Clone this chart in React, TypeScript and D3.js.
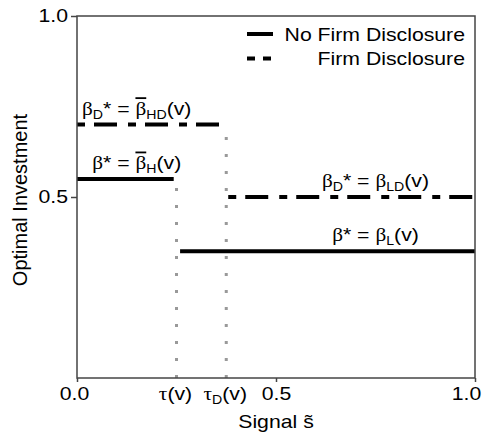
import React, { useEffect, useRef } from 'react'
import * as d3 from 'd3'

/* data */
const xTicks = [0, 0.5, 1]
const yTicks = [0.5, 1]
const noDisclosure = [
  { x0: 0, x1: 0.243, y: 0.55 },
  { x0: 0.259, x1: 1, y: 0.35 },
]
const disclosure = [
  { x0: 0, x1: 0.363, y: 0.7 },
  { x0: 0.38, x1: 1, y: 0.5 },
]
const thresholds = [
  { name: 'τ', sub: '', x: 0.25, top: 0.55 },
  { name: 'τ', sub: 'D', x: 0.375, top: 0.7 },
]
const segLabels = [
  { x: 0.15, y: 0.7, lhsSub: 'D', rhsSub: 'HD', bar: true },
  { x: 0.15, y: 0.55, lhsSub: '', rhsSub: 'H', bar: true },
  { x: 0.75, y: 0.5, lhsSub: 'D', rhsSub: 'LD', bar: false },
  { x: 0.75, y: 0.35, lhsSub: '', rhsSub: 'L', bar: false },
]
const legendItems = ['No Firm Disclosure', 'Firm Disclosure']

const W = 482
const H = 433
const m = { left: 77, right: 7, top: 16, bottom: 55 }
const sx = 1.18 // the original is a little wider than tall
const sans = 'Liberation Sans, Arial, sans-serif'
const serif = 'Liberation Serif, Times New Roman, serif'
const dashDot = '23,11,8,9'

export default function App() {
  const xAxisRef = useRef<SVGGElement>(null)
  const yAxisRef = useRef<SVGGElement>(null)

  const x = d3.scaleLinear().domain([0, 1]).range([m.left, W - m.right])
  const y = d3.scaleLinear().domain([0, 1]).range([H - m.bottom, m.top])

  useEffect(() => {
    const xa = d3.select(xAxisRef.current!)
    xa.call(d3.axisBottom(x).tickValues(xTicks).tickSize(4).tickPadding(5).tickFormat(d3.format('.1f')) as any)
    xa.select('.domain').remove()
    xa.selectAll('line').attr('stroke', '#444').attr('stroke-width', 1.5)
    xa.selectAll('text')
      .attr('font-size', 18)
      .attr('font-family', sans)
      .attr('fill', '#000')
      .attr('transform', (d: any, i: number) => {
        const dx = i === 0 ? -3 : i === xTicks.length - 1 ? -9 : 0
        return `translate(${dx},0) scale(${sx},1)`
      })

    const ya = d3.select(yAxisRef.current!)
    ya.call(d3.axisLeft(y).tickValues(yTicks).tickSize(6).tickPadding(3).tickFormat(d3.format('.1f')) as any)
    ya.select('.domain').remove()
    ya.selectAll('line').attr('stroke', '#444').attr('stroke-width', 1.5)
    ya.selectAll('text')
      .attr('font-size', 18)
      .attr('font-family', sans)
      .attr('fill', '#000')
      .attr('transform', `translate(-9,0) scale(${sx},1) translate(9,0)`)
  }, [])

  return (
    <svg width={W} height={H} style={{ position: 'absolute', left: 0, top: 0 }} fontFamily={sans}>
      <rect x={0} y={0} width={W} height={H} fill="#fff" />

      {/* dotted thresholds */}
      {thresholds.map((t, i) => (
        <line key={'t' + i} x1={x(t.x)} x2={x(t.x)} y1={y(0)} y2={y(t.top)}
          stroke="#999" strokeWidth={3} strokeDasharray="3,14" />
      ))}

      {/* no disclosure: solid */}
      {noDisclosure.map((s, i) => (
        <line key={'n' + i} x1={x(s.x0)} x2={x(s.x1)} y1={y(s.y)} y2={y(s.y)}
          stroke="#000" strokeWidth={4} />
      ))}

      {/* disclosure: dash-dot */}
      {disclosure.map((s, i) => (
        <line key={'d' + i} x1={x(s.x0)} x2={x(s.x1)} y1={y(s.y)} y2={y(s.y)}
          stroke="#000" strokeWidth={4} strokeDasharray={dashDot} strokeDashoffset={34} />
      ))}

      {/* frame */}
      <rect x={x(0)} y={y(1)} width={x(1) - x(0)} height={y(0) - y(1)}
        fill="none" stroke="#444" strokeWidth={1.5} />

      <g ref={xAxisRef} transform={`translate(0,${y(0)})`} />
      <g ref={yAxisRef} transform={`translate(${x(0)},0)`} />

      {/* segment labels */}
      {segLabels.map((l, i) => (
        <g key={'l' + i} transform={`translate(${x(l.x)},${y(l.y) - 10}) scale(${sx},1)`}>
          <text textAnchor="middle" fontSize={18}>
            <tspan fontFamily={serif}>β</tspan>
            {l.lhsSub ? <tspan fontSize={12} dy={4}>{l.lhsSub}</tspan> : null}
            <tspan dy={l.lhsSub ? -4 : 0}>*</tspan>
            <tspan> = </tspan>
            <tspan fontFamily={serif} textDecoration={l.bar ? 'overline' : undefined}>β</tspan>
            <tspan fontSize={12} dy={4}>{l.rhsSub}</tspan>
            <tspan dy={-4}>(v)</tspan>
          </text>
        </g>
      ))}

      {/* threshold labels */}
      {thresholds.map((t, i) => (
        <g key={'tl' + i} transform={`translate(${x(t.x) - 1},${y(0) + 22}) scale(${sx},1)`}>
          <text textAnchor="middle" fontSize={18}>
            <tspan fontFamily={serif}>{t.name}</tspan>
            {t.sub ? <tspan fontSize={12} dy={4}>{t.sub}</tspan> : null}
            <tspan dy={t.sub ? -4 : 0}>(v)</tspan>
          </text>
        </g>
      ))}

      {/* axis titles */}
      <g transform={`translate(${(x(0) + x(1)) / 2},${H - 5}) scale(${sx},1)`}>
        <text textAnchor="middle" fontSize={18}>Signal s̃</text>
      </g>
      <text transform={`translate(27,${(y(0) + y(1)) / 2 + 3}) rotate(-90)`} textAnchor="middle" fontSize={20}>
        Optimal Investment
      </text>

      {/* legend */}
      {legendItems.map((name, i) => (
        <g key={'lg' + i}>
          <line x1={247} x2={273} y1={34 + i * 24.5} y2={34 + i * 24.5} stroke="#000" strokeWidth={4}
            strokeDasharray={i === 1 ? '8,8' : undefined} />
          <g transform={`translate(465,${41 + i * 24}) scale(${sx},1)`}>
            <text textAnchor="end" fontSize={18}>{name}</text>
          </g>
        </g>
      ))}
    </svg>
  )
}
